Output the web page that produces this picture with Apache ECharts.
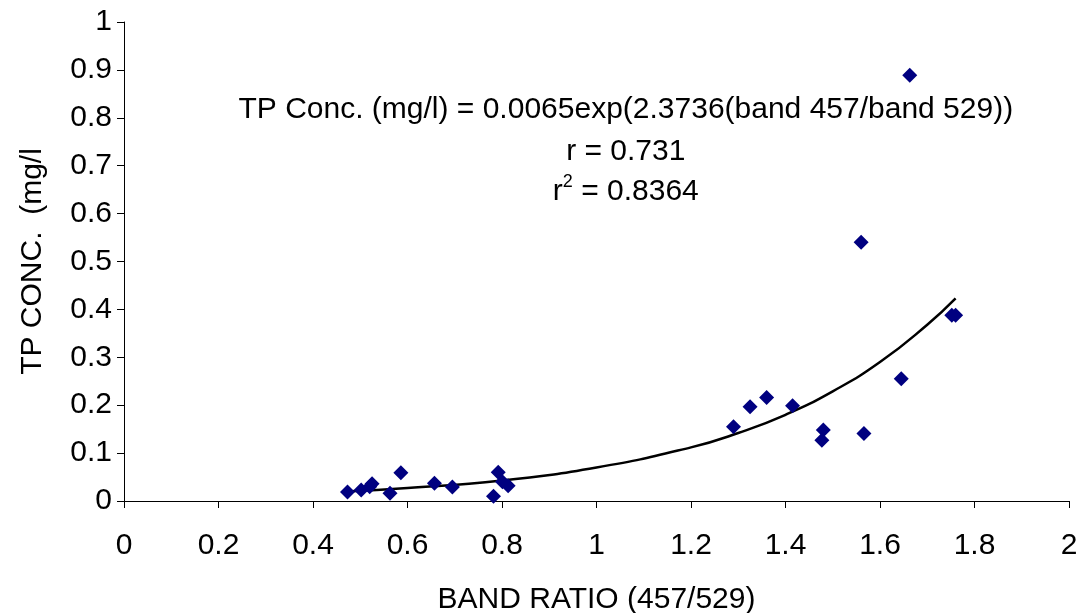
<!DOCTYPE html>
<html>
<head>
<meta charset="utf-8">
<script src="https://cdn.jsdelivr.net/npm/echarts@6/dist/echarts.min.js"></script>
<style>
html,body{margin:0;padding:0;background:#fff;}
#chart{width:1083px;height:613px;}
</style>
</head>
<body>
<div id="chart"></div>
<script>
// Observed data (band ratio, TP conc.)
const ratioValues = [0.473, 0.502, 0.520, 0.525, 0.563, 0.586, 0.657, 0.695, 0.782, 0.792, 0.801, 0.813,
  1.290, 1.325, 1.360, 1.415, 1.477, 1.480, 1.560, 1.566, 1.645, 1.663, 1.752, 1.760];
const tpValues = [0.019, 0.023, 0.030, 0.036, 0.016, 0.059, 0.037, 0.029, 0.010, 0.060, 0.040, 0.032,
  0.155, 0.197, 0.216, 0.199, 0.127, 0.148, 0.540, 0.141, 0.255, 0.889, 0.388, 0.388];
// Trend curve points
const trendX = [0.47, 0.6, 0.8, 1.0, 1.2, 1.3, 1.4, 1.5, 1.6, 1.7, 1.76];
const trendY = [0.020, 0.027, 0.043, 0.070, 0.112, 0.142, 0.180, 0.229, 0.290, 0.368, 0.423];
const annotationLines = ['TP Conc. (mg/l) = 0.0065exp(2.3736(band 457/band 529))', 'r = 0.731', 'r', '2', ' = 0.8364'];

const chart = echarts.init(document.getElementById('chart'));
const font = 'Liberation Sans, Arial, sans-serif';
chart.setOption({
  animation: false,
  backgroundColor: '#fff',
  grid: {left: 124, right: 14, top: 22, bottom: 112, containLabel: false, outerBoundsMode: 'none'},
  xAxis: {
    type: 'value', min: 0, max: 2, interval: 0.2,
    name: 'BAND RATIO (457/529)', nameLocation: 'middle', nameGap: 84,
    nameTextStyle: {fontSize: 30, color: '#000', fontFamily: font},
    axisLine: {onZero: false, lineStyle: {color: '#000', width: 1}},
    axisTick: {show: true, length: 7, lineStyle: {color: '#000'}},
    axisLabel: {fontSize: 30, color: '#000', margin: 30, fontFamily: font,
      formatter: v => String(Math.round(v * 10) / 10)},
    splitLine: {show: false}
  },
  yAxis: {
    type: 'value', min: 0, max: 1, interval: 0.1,
    name: 'TP CONC.  (mg/l', nameLocation: 'middle', nameGap: 76,
    nameTextStyle: {fontSize: 30, color: '#000', fontFamily: font},
    axisLine: {show: true, lineStyle: {color: '#000', width: 1}},
    axisTick: {show: true, length: 7, lineStyle: {color: '#000'}},
    axisLabel: {fontSize: 30, color: '#000', margin: 12, fontFamily: font,
      formatter: v => String(Math.round(v * 10) / 10)},
    splitLine: {show: false}
  },
  series: [
    {
      type: 'line', data: trendX.map((x, i) => [x, trendY[i]]), smooth: true,
      showSymbol: false, lineStyle: {color: '#000', width: 2.5}, z: 2
    },
    {
      type: 'scatter', data: ratioValues.map((x, i) => [x, tpValues[i]]),
      symbol: 'diamond', symbolSize: 15, itemStyle: {color: '#000080', opacity: 1}, z: 3
    }
  ]
});

// Annotation placed in data coordinates
const p1 = chart.convertToPixel({gridIndex: 0}, [1.062, 0.816]);
const p2 = chart.convertToPixel({gridIndex: 0}, [1.062, 0.729]);
const p3 = chart.convertToPixel({gridIndex: 0}, [1.062, 0.641]);
chart.setOption({
  graphic: [
    {type: 'text', id: 'eq', x: p1[0], y: p1[1], z: 10,
      style: {text: annotationLines[0], font: '30px ' + font, fill: '#000', align: 'center', verticalAlign: 'middle'}},
    {type: 'text', id: 'r', x: p2[0], y: p2[1], z: 10,
      style: {text: annotationLines[1], font: '30px ' + font, fill: '#000', align: 'center', verticalAlign: 'middle'}},
    {type: 'text', id: 'r2', x: p3[0], y: p3[1] - 4, z: 10,
      style: {text: '{a|' + annotationLines[2] + '}{s|' + annotationLines[3] + '}{a|' + annotationLines[4] + '}',
        align: 'center', verticalAlign: 'middle',
        rich: {a: {font: '30px ' + font, color: '#000', verticalAlign: 'bottom', lineHeight: 34},
               s: {font: '18px ' + font, color: '#000', verticalAlign: 'top', lineHeight: 34}}}}
  ]
});
</script>
</body>
</html>
